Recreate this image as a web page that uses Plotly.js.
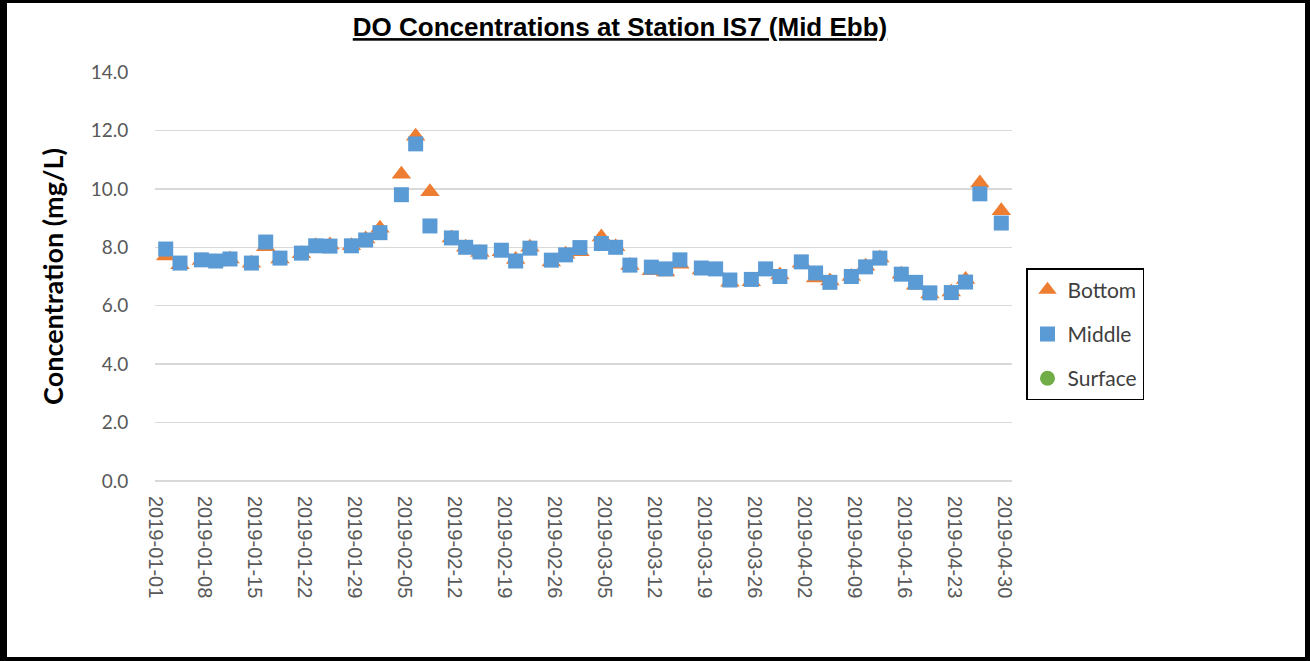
<!DOCTYPE html>
<html>
<head>
<meta charset="utf-8">
<script src="https://cdn.plot.ly/plotly-3.0.1.min.js"></script>
<style>
  html, body { margin: 0; padding: 0; background: #fff; }
  #frame { width: 1310px; height: 661px; box-sizing: border-box; border-style: solid; border-color: #000; border-width: 3px 5px 4px 7px; background: #fff; }
  #chart { width: 1298px; height: 654px; }
</style>
</head>
<body>
<div id="frame"><div id="chart"></div></div>
<script>
const sampleDates = [
  '2019-01-02','2019-01-04','2019-01-07','2019-01-09','2019-01-11','2019-01-14','2019-01-16','2019-01-18',
  '2019-01-21','2019-01-23','2019-01-25','2019-01-28','2019-01-30','2019-02-01','2019-02-04','2019-02-06',
  '2019-02-08','2019-02-11','2019-02-13','2019-02-15','2019-02-18','2019-02-20','2019-02-22','2019-02-25',
  '2019-02-27','2019-03-01','2019-03-04','2019-03-06','2019-03-08','2019-03-11','2019-03-13','2019-03-15',
  '2019-03-18','2019-03-20','2019-03-22','2019-03-25','2019-03-27','2019-03-29','2019-04-01','2019-04-03',
  '2019-04-05','2019-04-08','2019-04-10','2019-04-12','2019-04-15','2019-04-17','2019-04-19','2019-04-22',
  '2019-04-24','2019-04-26','2019-04-29'
];
const bottomValues = [
  7.70, 7.40, 7.55, 7.50, 7.60, 7.45, 8.02, 7.60,
  7.78, 8.05, 8.08, 8.05, 8.28, 8.65, 10.50, 11.80,
  9.90, 8.32, 8.00, 7.82, 7.85, 7.58, 8.00, 7.50,
  7.76, 7.85, 8.35, 8.02, 7.38, 7.20, 7.15, 7.42,
  7.22, 7.20, 6.80, 6.82, 7.22, 7.05, 7.45, 6.95,
  6.85, 7.00, 7.35, 7.63, 7.08, 6.70, 6.40, 6.47,
  6.90, 10.20, 9.25
];
const middleValues = [
  7.94, 7.46, 7.57, 7.53, 7.60, 7.46, 8.18, 7.63,
  7.80, 8.05, 8.04, 8.05, 8.25, 8.50, 9.80, 11.54,
  8.73, 8.32, 8.00, 7.84, 7.90, 7.53, 7.97, 7.56,
  7.74, 7.99, 8.13, 8.00, 7.39, 7.32, 7.26, 7.57,
  7.29, 7.26, 6.88, 6.90, 7.26, 7.00, 7.50, 7.12,
  6.80, 7.00, 7.33, 7.63, 7.08, 6.80, 6.44, 6.45,
  6.81, 9.83, 8.83
];
// Surface series appears in the legend only (no plotted values)
const surfaceDates = [null];
const surfaceValues = [null];
const yTickValues = [0, 2, 4, 6, 8, 10, 12, 14];
const xAxisStart = '2019-01-01';
const xAxisEnd = '2019-05-01';

const DAY = 86400000;
const traces = [
  { name: 'Bottom', x: sampleDates, y: bottomValues, type: 'scatter', mode: 'markers',
    xperiod: DAY, xperiodalignment: 'middle', legendgroup: 'b',
    marker: { symbol: 'triangle-up', size: 17, color: '#ED7D31' } },
  { name: 'Middle', x: sampleDates, y: middleValues, type: 'scatter', mode: 'markers',
    xperiod: DAY, xperiodalignment: 'middle', legendgroup: 'm',
    marker: { symbol: 'square', size: 15, color: '#5B9BD5' } },
  { name: 'Surface', x: surfaceDates, y: surfaceValues, type: 'scatter', mode: 'markers',
    legendgroup: 's', showlegend: true,
    marker: { symbol: 'circle', size: 15, color: '#70AD47' } }
];

const layout = {
  width: 1298, height: 654,
  margin: { l: 148, r: 293, t: 69, b: 176 },
  paper_bgcolor: '#fff', plot_bgcolor: '#fff',
  title: { text: '<b><u>DO Concentrations at Station IS7 (Mid Ebb)</u></b>',
    font: { family: 'Liberation Sans, Arial, sans-serif', size: 26, color: '#000' },
    xref: 'container', x: 613 / 1298, xanchor: 'center', yref: 'container', y: 1 - 24 / 654, yanchor: 'middle' },
  xaxis: {
    type: 'date', range: [xAxisStart, xAxisEnd],
    tick0: xAxisStart, dtick: 7 * DAY, tickformat: '%Y-%m-%d', tickangle: 90,
    tickfont: { family: 'Liberation Sans, Arial, sans-serif', size: 20, color: '#595959' },
    showgrid: false, showline: false, zeroline: false, ticks: 'outside', ticklen: 10, tickcolor: 'rgba(0,0,0,0)'
  },
  yaxis: {
    range: [0, 14], tickvals: yTickValues, tickformat: '.1f',
    tickfont: { family: 'Lato, Open Sans, sans-serif', size: 19, color: '#595959' },
    showgrid: true, gridcolor: '#d9d9d9', gridwidth: 1.3, zeroline: true, zerolinecolor: '#d9d9d9', zerolinewidth: 1.3,
    showline: false, ticks: 'outside', ticklen: 22, tickcolor: 'rgba(0,0,0,0)',
    title: { text: '<b>Concentration (mg/L)</b>', standoff: 19,
      font: { family: 'Lato, Noto Sans, sans-serif', size: 27, color: '#000' } }
  },
  showlegend: true,
  legend: {
    x: (1026 - 155) / 857, xanchor: 'left', y: (481 - 268) / 409, yanchor: 'top',
    bordercolor: '#000', borderwidth: 1.5, bgcolor: '#fff',
    font: { family: 'Lato, Open Sans, sans-serif', size: 21, color: '#404040' },
    traceorder: 'grouped', tracegroupgap: 14, itemsizing: 'trace'
  }
};

Plotly.newPlot('chart', traces, layout, { displayModeBar: false, staticPlot: true });
</script>
</body>
</html>
